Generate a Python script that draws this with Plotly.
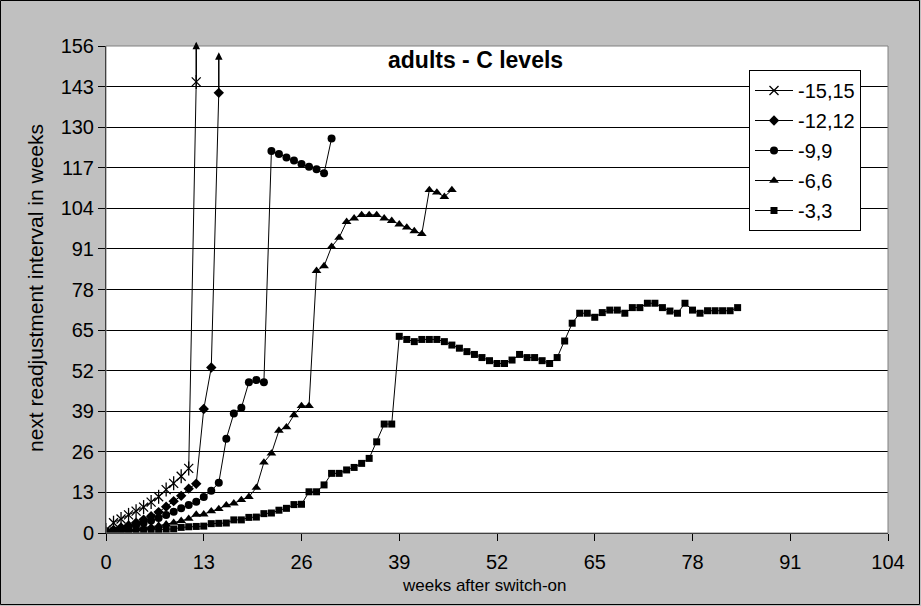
import plotly.graph_objects as go

# Readjustment intervals (weeks) for each C-level pair, one value per week after switch-on
series_names = ["-15,15", "-12,12", "-9,9", "-6,6", "-3,3"]

vals_15 = [1.0, 3.3, 4.5, 5.8, 7.0, 8.3, 9.9, 11.6, 13.9, 15.9, 18.2, 20.7, 144.5]

vals_12 = [0.5, 1.0, 1.8, 2.4, 3.3, 4.3, 5.4, 6.7, 8.4, 10.2, 11.9, 14.2, 15.8,
           39.7, 53.0, 141.0]

vals_9 = [0.5, 0.8, 1.3, 1.9, 2.5, 3.2, 4.0, 4.8, 5.8, 6.8, 7.9, 9.0, 10.0, 11.5,
          13.5, 16.1, 30.2, 38.3, 40.1, 48.3, 49.0, 48.3, 122.4, 121.4, 120.3,
          119.3, 118.2, 117.3, 116.5, 115.2, 126.4]

vals_6 = [0.5, 0.6, 0.8, 1.0, 1.3, 1.6, 2.0, 2.4, 2.8, 3.3, 3.9, 4.6, 5.9, 6.0,
          7.0, 7.7, 8.9, 9.5, 10.6, 11.6, 14.5, 22.6, 25.5, 32.8, 33.9, 37.8,
          40.7, 40.7, 84.0, 85.5, 91.7, 94.6, 99.7, 100.8, 101.9, 101.9, 101.9,
          100.8, 100.0, 98.9, 97.9, 96.7, 95.8, 109.9, 109.1, 107.7, 109.9]

vals_3 = [0.5, 0.6, 0.7, 0.8, 0.9, 1.0, 1.0, 1.1, 1.2, 1.3, 1.8, 2.0, 2.1, 2.2,
          3.0, 3.1, 3.2, 4.2, 4.2, 5.0, 5.1, 6.2, 6.4, 7.3, 7.9, 9.1, 9.2, 13.2,
          13.2, 15.4, 19.1, 19.1, 20.2, 21.0, 22.3, 23.9, 29.2, 34.9, 34.9, 63.0,
          62.0, 61.3, 62.0, 62.0, 62.0, 61.3, 60.2, 59.2, 58.1, 57.2, 56.2, 55.2,
          54.3, 54.3, 55.4, 57.2, 56.2, 56.2, 55.2, 54.3, 56.2, 61.5, 67.2, 70.4,
          70.4, 69.1, 70.6, 71.4, 71.4, 70.4, 72.2, 72.2, 73.6, 73.6, 72.2, 71.1,
          70.4, 73.6, 71.4, 70.4, 71.2, 71.2, 71.2, 71.2, 72.2]

# Off-scale continuations (week, last plotted value, arrow tip)
arrow_15 = (12, 144.5, 157.4)
arrow_12 = (15, 141.0, 154.0)

x_ticks = [0, 13, 26, 39, 52, 65, 78, 91, 104]
y_ticks = [0, 13, 26, 39, 52, 65, 78, 91, 104, 117, 130, 143, 156]

FONT = "Liberation Sans, Arial, sans-serif"
BLACK = "#000000"

fig = go.Figure()


def weeks(v):
    return list(range(len(v)))


# -15,15 : six-armed star drawn as an x plus a vertical bar
fig.add_trace(go.Scatter(
    x=weeks(vals_15), y=vals_15, name=series_names[0], mode="lines+markers",
    legendgroup="g15",
    line=dict(color=BLACK, width=1),
    marker=dict(symbol="x-thin-open", size=9, color=BLACK,
                line=dict(color=BLACK, width=1.3)),
))
fig.add_trace(go.Scatter(
    x=weeks(vals_15), y=vals_15, mode="markers", showlegend=False,
    legendgroup="g15", hoverinfo="skip",
    marker=dict(symbol="line-ns-open", size=10, color=BLACK,
                line=dict(color=BLACK, width=1.3)),
))

fig.add_trace(go.Scatter(
    x=weeks(vals_12), y=vals_12, name=series_names[1], mode="lines+markers",
    legendgroup="g12",
    line=dict(color=BLACK, width=1),
    marker=dict(symbol="diamond", size=8, color=BLACK),
))
fig.add_trace(go.Scatter(
    x=weeks(vals_9), y=vals_9, name=series_names[2], mode="lines+markers",
    legendgroup="g9",
    line=dict(color=BLACK, width=1),
    marker=dict(symbol="circle", size=8, color=BLACK),
))
fig.add_trace(go.Scatter(
    x=weeks(vals_6), y=vals_6, name=series_names[3], mode="lines+markers",
    legendgroup="g6",
    line=dict(color=BLACK, width=1),
    marker=dict(symbol="triangle-up", size=8.5, color=BLACK),
))
fig.add_trace(go.Scatter(
    x=weeks(vals_3), y=vals_3, name=series_names[4], mode="lines+markers",
    legendgroup="g3",
    line=dict(color=BLACK, width=1),
    marker=dict(symbol="square", size=7, color=BLACK),
))

# Arrows for the values that leave the top of the scale
for wk, y0, y1 in (arrow_15, arrow_12):
    fig.add_annotation(x=wk, y=y1, ax=wk, ay=y0, xref="x", yref="y",
                       axref="x", ayref="y", text="", showarrow=True,
                       arrowhead=2, arrowsize=1, arrowwidth=1.5,
                       arrowcolor=BLACK, standoff=0, startstandoff=0)

# Plot geometry in pixels
L, R, T, B = 106, 33, 46, 73
W, H = 921, 606
pw, ph = W - L - R, H - T - B


def px(xp):
    return (xp - L) / pw


def py(yp):
    return (H - B - yp) / ph


def label(text, xp, yp, size, angle=0):
    fig.add_annotation(text=text, x=px(xp), y=py(yp), xref="paper", yref="paper",
                       xanchor="center", yanchor="middle", showarrow=False,
                       textangle=angle,
                       font=dict(family=FONT, size=size, color=BLACK))


label("<b>adults - C levels</b>", 475, 60, 23)
label("weeks after switch-on", 484, 585, 17)
label("next readjustment interval in weeks", 35, 288, 21, angle=-90)

# Plot-area frame (grey) and outer chart frame
fig.add_shape(type="rect", xref="paper", yref="paper", x0=0, y0=0, x1=1, y1=1,
              line=dict(color="#808080", width=1), layer="above")
fig.add_shape(type="rect", xref="paper", yref="paper",
              x0=px(0.5), x1=px(919.5), y0=py(604.5), y1=py(0.5),
              line=dict(color="#000000", width=1), layer="below")

fig.update_xaxes(range=[0, 104], tickvals=x_ticks, ticks="outside", ticklen=7,
                 tickcolor=BLACK, showline=True, linecolor=BLACK, linewidth=1,
                 showgrid=False, zeroline=False, ticklabelstandoff=4,
                 tickfont=dict(family=FONT, size=20, color=BLACK))
fig.update_yaxes(range=[0, 156], tickvals=y_ticks, ticks="outside", ticklen=7,
                 tickcolor=BLACK, showline=True, linecolor=BLACK, linewidth=1,
                 showgrid=True, gridcolor=BLACK, gridwidth=1, zeroline=False,
                 tickfont=dict(family=FONT, size=20, color=BLACK))

fig.update_layout(
    width=W, height=H,
    margin=dict(l=L, r=R, t=T, b=B, pad=0),
    paper_bgcolor="#c0c0c0", plot_bgcolor="#ffffff",
    showlegend=True,
    legend=dict(x=px(749), y=py(70), xanchor="left", yanchor="top",
                bgcolor="#ffffff", bordercolor=BLACK, borderwidth=1,
                font=dict(family=FONT, size=20, color=BLACK),
                tracegroupgap=1, itemwidth=38),
    font=dict(family=FONT, color=BLACK),
    hovermode=False,
)

fig.write_html("out.html")
